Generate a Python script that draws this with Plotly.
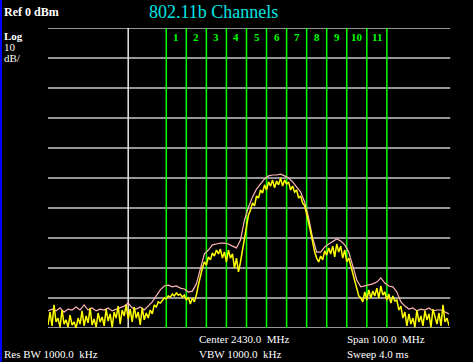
import numpy as np
import plotly.graph_objects as go

# Spectrum sweep: 2380-2480 MHz (center 2430, span 100)
f_start, f_stop = 2380.0, 2480.0
ref_level, db_per_div, n_div = 0, 10, 10

# Max-hold trace (pink), 1 MHz steps, dBm
max_hold = [
    -94.3, -93.7, -94.3, -93.3, -94.7, -93.7, -94.0, -93.0, -94.0, -92.3,
    -94.0, -93.3, -94.3, -93.7, -94.0, -93.3, -94.3, -93.7, -93.3, -92.7,
    -91.7, -93.3, -93.7, -93.0, -94.0, -92.7, -91.3, -89.3, -87.3, -86.0,
    -85.7, -86.3, -86.0, -86.7, -87.0, -88.0, -87.7, -85.3, -80.0, -75.3,
    -74.0, -72.3, -72.0, -71.7, -71.7, -72.0, -72.7, -73.3, -70.7, -64.0,
    -59.7, -56.3, -53.7, -52.0, -50.3, -49.3, -49.0, -49.0, -48.7, -49.3,
    -50.0, -51.3, -53.0, -54.7, -58.0, -63.3, -70.0, -74.7, -74.7, -73.0,
    -72.0, -71.0, -70.3, -71.0, -72.3, -74.7, -79.3, -84.0, -86.3, -86.0,
    -85.7, -85.3, -84.7, -83.3, -85.0, -86.0, -86.3, -88.0, -91.3, -92.7,
    -93.7, -93.3, -94.3, -93.7, -94.0, -93.3, -94.3, -94.0, -94.0, -94.7,
    -95.3,
]

# Live trace (yellow), 0.5 MHz steps, dBm
live = [
    -99.0, -94.7, -99.3, -92.3, -98.0, -96.7, -99.7, -94.0, -98.7, -97.3,
    -99.7, -95.7, -99.0, -98.0, -100.0, -96.7, -98.7, -94.3, -99.3, -96.0,
    -98.3, -93.3, -99.0, -97.0, -99.7, -95.0, -98.0, -96.3, -99.3, -93.7,
    -97.7, -95.3, -99.7, -94.7, -96.7, -92.7, -98.7, -94.0, -96.0, -92.3,
    -97.0, -93.7, -98.0, -93.0, -96.7, -94.7, -99.0, -93.3, -97.3, -95.0,
    -96.7, -94.0, -95.3, -92.3, -93.0, -91.3, -91.7, -90.7, -90.0, -90.3,
    -89.3, -89.7, -88.7, -89.3, -88.3, -89.0, -88.7, -89.7, -89.0, -90.7,
    -89.7, -92.0, -90.0, -91.3, -89.0, -85.7, -82.3, -80.0, -78.0, -79.0,
    -76.3, -77.3, -75.0, -76.0, -74.0, -75.3, -73.7, -76.7, -74.7, -78.0,
    -74.0, -76.7, -75.3, -80.0, -76.7, -81.3, -78.0, -74.0, -69.3, -65.7,
    -62.3, -60.7, -58.3, -59.3, -56.0, -56.7, -54.0, -55.0, -52.3, -54.0,
    -51.3, -52.7, -50.7, -53.3, -51.0, -52.3, -50.0, -52.7, -50.7, -52.0,
    -51.3, -54.0, -52.7, -54.7, -54.0, -56.7, -56.0, -58.3, -59.3, -62.0,
    -64.7, -68.0, -71.3, -74.7, -76.7, -78.0, -76.0, -77.3, -74.3, -75.7,
    -73.3, -75.3, -72.7, -76.3, -72.0, -74.7, -72.7, -76.7, -74.0, -78.0,
    -76.7, -79.3, -81.3, -84.7, -86.7, -89.3, -90.0, -91.3, -88.0, -90.7,
    -87.3, -90.0, -87.7, -89.3, -86.7, -90.0, -86.0, -89.0, -88.0, -90.7,
    -88.7, -91.7, -89.3, -91.0, -90.7, -94.0, -92.7, -96.7, -94.7, -99.3,
    -95.3, -98.7, -96.7, -99.7, -94.0, -98.0, -96.0, -99.3, -94.3, -97.3,
    -95.3, -99.7, -93.7, -96.7, -98.7, -95.0, -99.3, -92.3, -98.0, -96.7,
    -99.3,
]

# 802.11b channels 1-11
channel_labels = [str(c) for c in range(1, 12)]
channel_centers = [2412, 2417, 2422, 2427, 2432, 2437, 2442, 2447, 2452, 2457, 2462]
channel_half_width = 2.5
channel_edges = [c - channel_half_width for c in channel_centers] + [channel_centers[-1] + channel_half_width]

grid_levels = [ref_level - db_per_div * i for i in range(n_div + 1)]
vertical_marker = [2400]

f_max = np.linspace(f_start, f_stop, len(max_hold))
f_live = np.linspace(f_start, f_stop, len(live))

SERIF = "Liberation Serif, Times New Roman, serif"
W, H = 473, 362
ML, MR, MT, MB = 48, 24, 28, 34
PW, PH = W - ML - MR, H - MT - MB

fig = go.Figure()
fig.add_trace(go.Scatter(x=f_max, y=max_hold, mode="lines",
                         line=dict(color="#ffb4b4", width=1.2), hoverinfo="skip"))
fig.add_trace(go.Scatter(x=f_live, y=live, mode="lines",
                         line=dict(color="#ffff00", width=1.5), hoverinfo="skip"))

shapes = []
for lv in grid_levels:
    shapes.append(dict(type="line", xref="paper", yref="y", x0=0, x1=1.003, y0=lv, y1=lv,
                       line=dict(color="#c8c8c8", width=1.5), layer="below"))
for vx in vertical_marker:
    shapes.append(dict(type="line", xref="x", yref="paper", x0=vx, x1=vx, y0=0, y1=1,
                       line=dict(color="#e8e8e8", width=1.5), layer="below"))
for e in channel_edges:
    shapes.append(dict(type="line", xref="x", yref="paper", x0=e, x1=e, y0=0, y1=1,
                       line=dict(color="#00ff00", width=1.5), layer="below"))
# blue left border strip
shapes.append(dict(type="rect", xref="paper", yref="paper",
                   x0=-ML / PW, x1=-(ML - 2) / PW, y0=-MB / PH, y1=1 + MT / PH,
                   line=dict(width=0), fillcolor="#0000ff"))

annotations = []
for lab, c in zip(channel_labels, channel_centers):
    annotations.append(dict(x=c, y=1 - 9 / PH, xref="x", yref="paper", text="<b>%s</b>" % lab,
                            showarrow=False, font=dict(family=SERIF, size=11, color="#00ff00"),
                            xanchor="center", yanchor="middle", borderpad=0))

def px_text(txt, x, y, size=11, color="white", bold=False, anchor="left"):
    t = "<b>%s</b>" % txt if bold else txt
    annotations.append(dict(x=(x - ML) / PW, y=1 - (y - MT) / PH, xref="paper", yref="paper",
                            text=t, showarrow=False, xanchor=anchor, yanchor="middle",
                            borderpad=0, font=dict(family=SERIF, size=size, color=color)))

NB = "\u00a0"
px_text("Ref 0 dBm", 3, 12, size=12, bold=True)
px_text("Log", 3, 36, size=11, bold=True)
px_text("10", 3, 47, size=11)
px_text("dB/", 3, 58, size=11)
px_text("802.11b Channels", 148, 12, size=18, color="#00e6e6")
px_text("Center 2430.0" + NB + NB + "MHz", 198, 339, size=11)
px_text("Span 100.0" + NB + NB + "MHz", 346, 339, size=11)
px_text("Res BW 1000.0" + NB + NB + "kHz", 3, 354, size=11)
px_text("VBW 1000.0" + NB + NB + "kHz", 198, 354, size=11)
px_text("Sweep 4.0 ms", 346, 354, size=11)

fig.update_layout(
    width=W, height=H,
    margin=dict(l=ML, r=MR, t=MT, b=MB),
    paper_bgcolor="black", plot_bgcolor="black",
    showlegend=False,
    shapes=shapes, annotations=annotations,
    xaxis=dict(range=[f_start, f_stop], showgrid=False, zeroline=False,
               showticklabels=False, ticks="", showline=False, fixedrange=True),
    yaxis=dict(range=[ref_level - db_per_div * n_div, ref_level], showgrid=False, zeroline=False,
               showticklabels=False, ticks="", showline=False, fixedrange=True),
)

fig.write_html("out.html", config={"displayModeBar": False})

# remove default page margin so the figure sits at the window's top-left corner
with open("out.html", "r", encoding="utf-8") as fh:
    html = fh.read()
html = html.replace("<head>", "<head><style>html,body{margin:0;padding:0;overflow:hidden;background:black}</style>", 1)
with open("out.html", "w", encoding="utf-8") as fh:
    fh.write(html)
